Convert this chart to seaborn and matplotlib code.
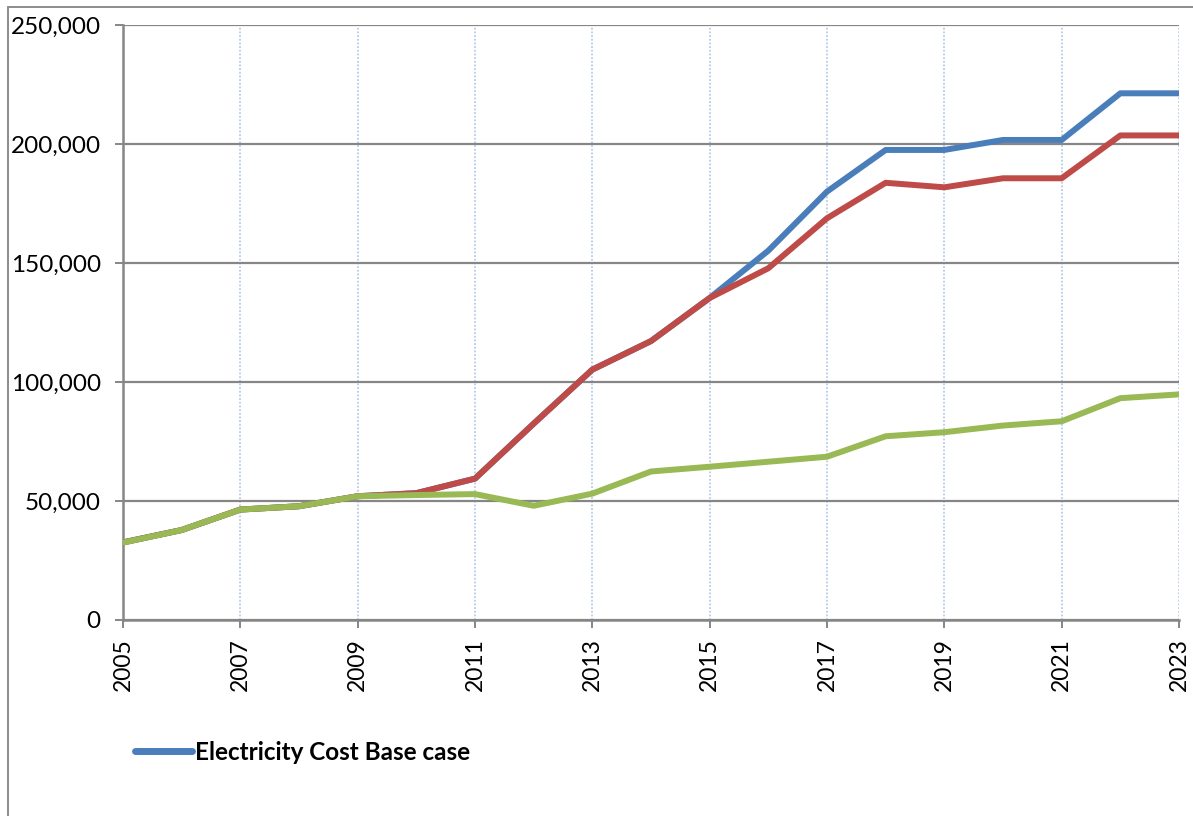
import matplotlib
matplotlib.use("Agg")
import matplotlib.pyplot as plt
from matplotlib.lines import Line2D
from matplotlib.ticker import FuncFormatter, FixedLocator
import seaborn as sns
import pandas as pd

# Annual electricity cost by scenario
years = list(range(2005, 2024))
base_case = [32.6, 37.8, 46.4, 47.8, 52.0, 53.3, 59.4, 82.5, 105.2, 117.2, 135.3,
             155.2, 180.0, 197.5, 197.5, 201.7, 201.7, 221.3, 221.3]
scenario_b = [32.6, 37.8, 46.4, 47.8, 52.0, 53.3, 59.4, 82.5, 105.2, 117.2, 135.3,
              147.8, 168.8, 183.7, 181.8, 185.6, 185.6, 203.6, 203.6]
scenario_c = [32.5, 37.8, 46.4, 47.8, 52.0, 52.5, 52.9, 48.0, 53.1, 62.4, 64.4,
              66.5, 68.6, 77.2, 78.9, 81.7, 83.5, 93.2, 94.8]
series_names = ["Electricity Cost Base case", "Scenario B", "Scenario C"]
series_colors = ["#4a7ebb", "#be4b48", "#98b954"]
y_ticks = [0, 50000, 100000, 150000, 200000, 250000]
x_ticks = list(range(2005, 2024, 2))

frames = []
for name, vals in zip(series_names, [base_case, scenario_b, scenario_c]):
    frames.append(pd.DataFrame({"year": years,
                                "cost": [v * 1000 for v in vals],
                                "series": name}))
df = pd.concat(frames, ignore_index=True)

sns.set_theme(style="white")
plt.rcParams["font.family"] = ["Lato", "DejaVu Sans"]
plt.rcParams["text.color"] = "black"

W, H = 1193, 816
fig = plt.figure(figsize=(W / 100, H / 100), dpi=100)
ax = fig.add_axes([123 / W, (H - 620) / H, (1179 - 123) / W, (620 - 25) / H])

sns.lineplot(data=df, x="year", y="cost", hue="series",
             hue_order=series_names, palette=series_colors,
             linewidth=4.3, legend=False, ax=ax, zorder=3)

ax.set_xlim(2005, 2023)
ax.set_ylim(0, 250000)
ax.xaxis.set_major_locator(FixedLocator(x_ticks))
ax.yaxis.set_major_locator(FixedLocator(y_ticks))
ax.yaxis.set_major_formatter(FuncFormatter(lambda v, p: f"{int(v):,}"))
ax.set_xlabel("")
ax.set_ylabel("")

# Gridlines: solid grey horizontals, dotted light-blue verticals
ax.grid(axis="y", color="#868686", linewidth=1.6, linestyle="-", zorder=1)
ax.grid(axis="x", color="#a9c4e4", linewidth=1.1, linestyle=(0, (1.2, 1.2)), zorder=1)
ax.set_axisbelow(True)

for side in ["top", "right"]:
    ax.spines[side].set_visible(False)
for side in ["left", "bottom"]:
    ax.spines[side].set_color("#868686")
    ax.spines[side].set_linewidth(1.8)

ax.tick_params(axis="both", which="major", direction="out", length=6,
               width=1.4, color="#868686", labelcolor="black",
               left=True, bottom=True)
ax.tick_params(axis="y", labelsize=17.5, pad=10)
ax.tick_params(axis="x", labelsize=16.5, pad=7)
plt.setp(ax.get_xticklabels(), rotation=90, va="top", ha="center")

# Legend with the base-case entry
handle = Line2D([], [], color=series_colors[0], linewidth=5,
                solid_capstyle="round")
leg = fig.legend([handle], [series_names[0]], loc="center left",
                 bbox_to_anchor=(135 / W, 1 - 752 / H), frameon=False,
                 prop={"family": ["Lato", "DejaVu Sans"], "weight": "bold", "size": 17.5},
                 handlelength=2.35, handletextpad=0.12, borderpad=0, borderaxespad=0)
for t in leg.get_texts():
    t.set_color("black")

# Chart area border (top and left edges)
border_y = 1 - 7 / H
border_x = 8 / W
fig.add_artist(Line2D([border_x, 1], [border_y, border_y], color="#8c8c8c",
                      linewidth=1.4, transform=fig.transFigure))
fig.add_artist(Line2D([border_x, border_x], [border_y, 0], color="#8c8c8c",
                      linewidth=1.4, transform=fig.transFigure))

fig.savefig("out.png", dpi=100, facecolor="white")
